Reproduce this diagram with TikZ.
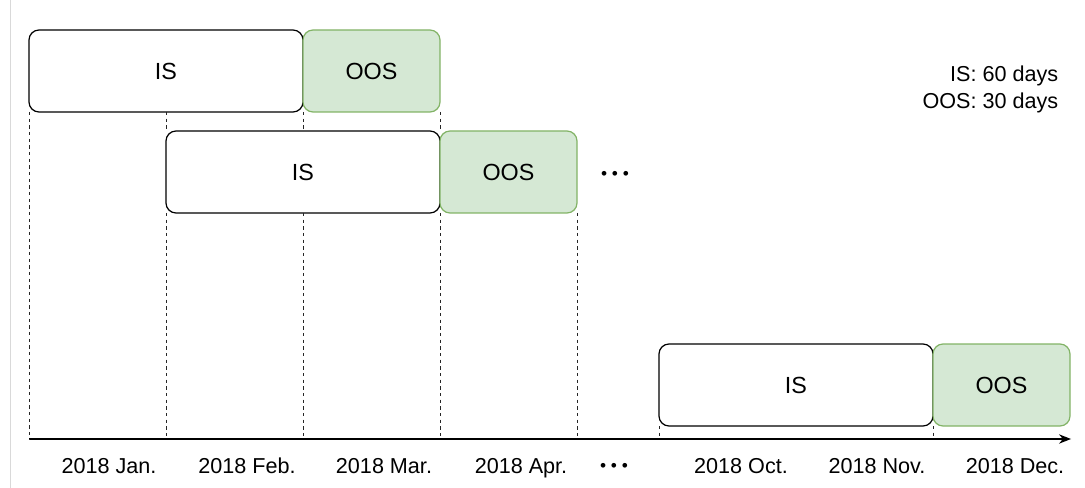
\documentclass[tikz,border=0pt]{standalone}
\usepackage{fontspec}
\setmainfont{Liberation Sans}
\usetikzlibrary{positioning,arrows.meta}

\definecolor{oosfill}{HTML}{D5E8D4}
\definecolor{oosdraw}{HTML}{82B366}

\newcommand{\gap}{\textbullet\kern3.6pt\textbullet\kern3.6pt\textbullet}

\tikzset{
    box/.style={rectangle, rounded corners=7.5pt, line width=0.9pt, minimum height=61.5pt,
        inner sep=0pt, outer sep=0pt, font=\fontsize{17.5}{20}\selectfont},
    isbox/.style={box, draw=black, fill=white, minimum width=205.5pt},
    oosbox/.style={box, draw=oosdraw, fill=oosfill, minimum width=102.75pt},
    guide/.style={dash pattern=on 2.6pt off 2.4pt, line width=0.6pt, black!85},
    month/.style={anchor=base, font=\fontsize{16.2}{20}\selectfont},
    dots/.style={inner sep=0pt, font=\fontsize{13}{13}\selectfont},
}

\begin{document}
\begin{tikzpicture}[x=0.75pt, y=-0.75pt]
    \useasboundingbox (0,0) rectangle (1085,488);
    \draw[black!15, line width=0.75pt] (10,0) -- (10,488);

    % windows
    \node[isbox, anchor=north west] (1) at (29,30) {IS};
    \node[oosbox, right=0pt of 1] (2) {OOS};
    \node[isbox, anchor=north west] (3) at (166,131) {IS};
    \node[oosbox, right=0pt of 3] (4) {OOS};
    \node[isbox, anchor=north west] (5) at (659,344) {IS};
    \node[oosbox, right=0pt of 5] (6) {OOS};
    \node[dots] (7) at (615,175) {\gap};

    \node[anchor=base east, font=\fontsize{16.2}{20}\selectfont] (8) at (1063,82) {IS: 60 days};
    \node[anchor=base east, font=\fontsize{16.2}{20}\selectfont] (9) at (1063,109) {OOS: 30 days};

    % time axis
    \coordinate (o) at (29,439);
    \coordinate (e) at (1071,439);
    \draw[line width=0.9pt, -{Stealth[length=9pt, width=7pt]}] (o) -- (e);

    \draw[guide] (1.south west) -- (1.south west |- o);
    \draw[guide] (1.south west -| 3.north west) -- (3.north west);
    \draw[guide] (3.south west) -- (3.south west |- o);
    \draw[guide] (1.south east) -- (1.south east |- 3.north);
    \draw[guide] (1.south east |- 3.south) -- (1.south east |- o);
    \draw[guide] (2.south east) -- (3.north east);
    \draw[guide] (3.south east) -- (3.south east |- o);
    \draw[guide] (4.south east) -- (4.south east |- o);
    \draw[guide] (5.south west) -- (5.south west |- o);
    \draw[guide] (5.south east) -- (5.south east |- o);

    \node[month] (10) at (109,473) {2018 Jan.};
    \node[month] (11) at (247,473) {2018 Feb.};
    \node[month] (12) at (384,473) {2018 Mar.};
    \node[month] (13) at (521,473) {2018 Apr.};
    \node[dots] (14) at (614,467) {\gap};
    \node[month] (15) at (741,473) {2018 Oct.};
    \node[month] (16) at (877,473) {2018 Nov.};
    \node[month] (17) at (1015,473) {2018 Dec.};
\end{tikzpicture}
\end{document}
